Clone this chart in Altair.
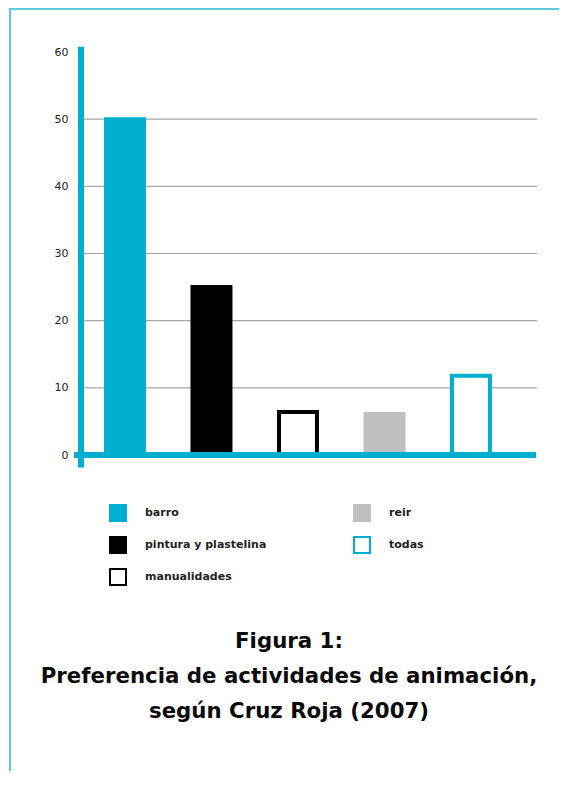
import altair as alt
import pandas as pd

categories = ["barro", "pintura y plastelina", "manualidades", "reir", "todas"]
values = [50, 25, 6.4, 6.1, 11.8]
fill_colors = ["#00AED0", "#000000", "#FFFFFF", "#BFBFBF", "#FFFFFF"]
stroke_colors = ["#00AED0", "#000000", "#000000", "#BFBFBF", "#00AED0"]
y_ticks = [0, 10, 20, 30, 40, 50, 60]
grid_values = [10, 20, 30, 40, 50]
title_lines = ["Figura 1:", "Preferencia de actividades de animación,", "según Cruz Roja (2007)"]

CYAN = "#00AED0"
FRAME = "#5BC8E0"

bars_df = pd.DataFrame({"cat": categories, "value": values})
grid_df = pd.DataFrame({"v": grid_values})
one = pd.DataFrame({"a": [0]})

legend_kw = dict(
    orient="none", legendX=28, legendY=452, columns=2, columnPadding=83,
    rowPadding=8, symbolType="square", symbolSize=256, symbolStrokeWidth=2,
    labelFont="DejaVu Sans", labelFontWeight="bold", labelFontSize=11,
    labelColor="#222222", labelOffset=18, title=None, padding=0,
)

yscale = alt.Scale(domain=[0, 60], nice=False, zero=True)

grid = alt.Chart(grid_df).mark_rule(color="#A6A6A6", strokeWidth=1.2).encode(
    y=alt.Y("v:Q", scale=yscale,
            axis=alt.Axis(values=y_ticks, grid=False, ticks=False, domain=False,
                          labelPadding=13, labelFont="DejaVu Sans", labelFontSize=11,
                          labelColor="#222222", title=None)),
    x=alt.value(3), x2=alt.value(456),
)

bars = alt.Chart(bars_df).mark_bar(strokeWidth=4, strokeJoin="miter").encode(
    x=alt.X("cat:N", sort=categories, axis=None,
            scale=alt.Scale(paddingInner=0.561, paddingOuter=0.4165, align=0.347)),
    y=alt.Y("value:Q", scale=yscale),
    fill=alt.Fill("cat:N", scale=alt.Scale(domain=categories, range=fill_colors),
                  legend=alt.Legend(**legend_kw)),
    stroke=alt.Stroke("cat:N", scale=alt.Scale(domain=categories, range=stroke_colors),
                      legend=alt.Legend(**legend_kw)),
)

vline = alt.Chart(one).mark_rule(color=CYAN, strokeWidth=6).encode(
    x=alt.value(0), y=alt.datum(60.8), y2=alt.datum(-1.85)
)
hline = alt.Chart(one).mark_rule(color=CYAN, strokeWidth=6).encode(
    y=alt.datum(0), x=alt.value(-7), x2=alt.value(455)
)
frame_left = alt.Chart(one).mark_rule(color=FRAME, strokeWidth=2).encode(
    x=alt.value(-71), y=alt.value(-44), y2=alt.value(740)
)
frame_top = alt.Chart(one).mark_rule(color=FRAME, strokeWidth=2).encode(
    y=alt.value(-43), x=alt.value(-72), x2=alt.value(500)
)
title = alt.Chart(one).mark_text(
    text=title_lines, font="DejaVu Sans", fontWeight="bold", fontSize=21.3,
    color="#0A0A0A", lineHeight=35, align="center", baseline="alphabetic",
).encode(x=alt.value(208), y=alt.value(596))

chart = alt.layer(grid, bars, vline, hline, frame_left, frame_top, title).properties(
    width=456, height=403,
    autosize=alt.AutoSizeParams(type="none"),
    padding={"left": 73, "top": 44, "right": 22, "bottom": 316},
).configure_view(stroke="transparent")

chart.save("out.html", embed_options={"renderer": "svg", "actions": False})
